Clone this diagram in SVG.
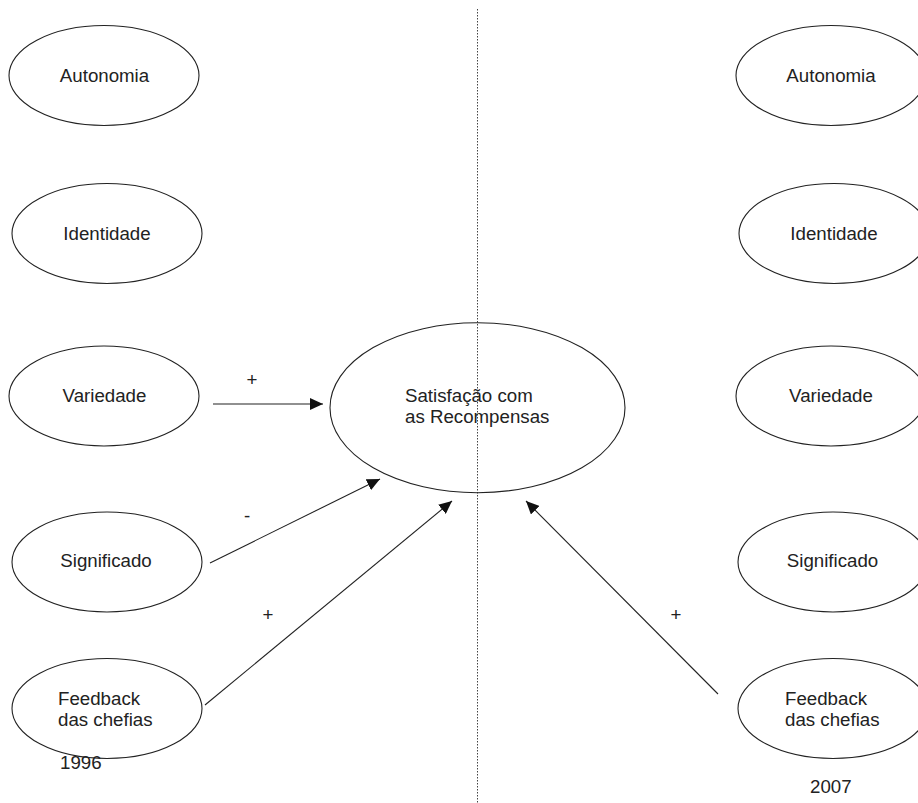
<svg xmlns="http://www.w3.org/2000/svg" width="918" height="803" viewBox="0 0 918 803">
<style>
.n{fill:#fff;stroke:#222;stroke-width:1.1}
.t{font-family:"Liberation Sans",Arial,sans-serif;font-size:18.7px;fill:#222}
.c{text-anchor:middle}
.e{stroke:#222;stroke-width:1.1;fill:none}
</style>
<defs>
<marker id="ah" markerWidth="14" markerHeight="12" refX="13" refY="6" orient="auto" markerUnits="userSpaceOnUse">
<path d="M0,0 L13,6 L0,12 z" fill="#111"/>
</marker>
</defs>
<rect width="918" height="803" fill="#fff"/>
<line x1="477.5" y1="9" x2="477.5" y2="803" stroke="#444" stroke-width="1" stroke-dasharray="1.5 1.5"/>
<g id="l-autonomia"><ellipse class="n" cx="104" cy="75.5" rx="95" ry="50"/><text class="t c" x="104.5" y="82">Autonomia</text></g>
<g id="l-identidade"><ellipse class="n" cx="107" cy="233.5" rx="95" ry="50"/><text class="t c" x="107" y="240">Identidade</text></g>
<g id="l-variedade"><ellipse class="n" cx="104" cy="396" rx="95" ry="50"/><text class="t c" x="104.5" y="402">Variedade</text></g>
<g id="l-significado"><ellipse class="n" cx="107" cy="562" rx="95" ry="50"/><text class="t c" x="106" y="567">Significado</text></g>
<g id="l-feedback"><ellipse class="n" cx="107" cy="708.5" rx="95" ry="50"/><text class="t" x="58" y="705">Feedback</text><text class="t" x="58" y="726">das chefias</text></g>
<g id="center"><ellipse class="n" cx="477.5" cy="407.7" rx="147.5" ry="85" style="fill:none"/><text class="t" x="405" y="402">Satisfação com</text><text class="t" x="405" y="423">as Recompensas</text></g>
<g id="r-autonomia"><ellipse class="n" cx="831" cy="75.5" rx="95" ry="50"/><text class="t c" x="831" y="82">Autonomia</text></g>
<g id="r-identidade"><ellipse class="n" cx="834" cy="233.5" rx="95" ry="50"/><text class="t c" x="834" y="240">Identidade</text></g>
<g id="r-variedade"><ellipse class="n" cx="831" cy="396" rx="95" ry="50"/><text class="t c" x="831" y="402">Variedade</text></g>
<g id="r-significado"><ellipse class="n" cx="833" cy="562" rx="95" ry="50"/><text class="t c" x="832.5" y="567">Significado</text></g>
<g id="r-feedback"><ellipse class="n" cx="833" cy="708.5" rx="95" ry="50"/><text class="t" x="785" y="705">Feedback</text><text class="t" x="785" y="726">das chefias</text></g>
<g id="connectors">
<line class="e" x1="213" y1="404" x2="323" y2="404" marker-end="url(#ah)"/>
<line class="e" x1="210" y1="563" x2="380" y2="479" marker-end="url(#ah)"/>
<line class="e" x1="205" y1="705" x2="452" y2="501" marker-end="url(#ah)"/>
<line class="e" x1="718" y1="694" x2="526" y2="501" marker-end="url(#ah)"/>
<text class="t c" x="252" y="386">+</text>
<text class="t c" x="247" y="522">-</text>
<text class="t c" x="268" y="621">+</text>
<text class="t c" x="676" y="621">+</text>
</g>
<text class="t" x="60" y="769">1996</text>
<text class="t" x="810" y="793">2007</text>
</svg>
